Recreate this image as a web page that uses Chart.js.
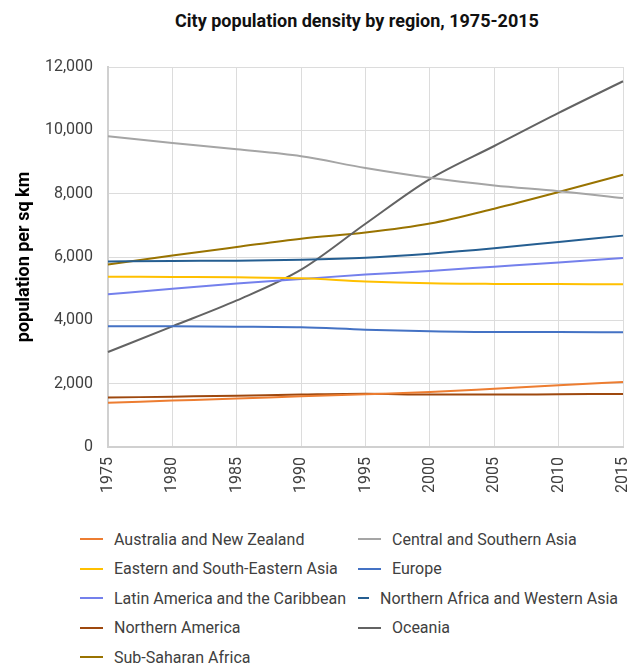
<!DOCTYPE html>
<html>
<head>
<meta charset="utf-8">
<script src="https://cdn.jsdelivr.net/npm/chart.js@4/dist/chart.umd.min.js"></script>
<style>
    body { margin: 0; background: #fff; font-family: Roboto, sans-serif; }
    #wrap { position: relative; width: 642px; height: 666px; overflow: hidden; }
    #title {
        position: absolute; top: 10px; left: 0; width: 714px;
        text-align: center; font-weight: bold; font-size: 18px; color: #111;
    }
    #chart { position: absolute; top: 0; left: 0; }
    #legend {
        position: absolute; top: 528px; left: 80px;
        display: grid; grid-template-columns: 278px 260px; row-gap: 7.5px;
        font-size: 16px; color: #404040;
    }
    .legend-item { display: flex; align-items: center; height: 22px; white-space: nowrap; }
    .legend-line { width: 23px; height: 2px; margin-right: 11px; }
</style>
</head>
<body>
<div id="wrap">
    <div id="title">City population density by region, 1975-2015</div>
    <canvas id="chart" width="642" height="505"></canvas>
    <div id="legend"></div>
</div>
<script>
const years = ['1975', '1980', '1985', '1990', '1995', '2000', '2005', '2010', '2015'];

const regions = [
    'Australia and New Zealand',
    'Central and Southern Asia',
    'Eastern and South-Eastern Asia',
    'Europe',
    'Latin America and the Caribbean',
    'Northern Africa and Western Asia',
    'Northern America',
    'Oceania',
    'Sub-Saharan Africa'
];

const australiaNz = [1400, 1465, 1530, 1600, 1665, 1735, 1840, 1950, 2055];
const centralSouthAsia = [9810, 9600, 9400, 9180, 8810, 8500, 8260, 8080, 7860];
const eastSouthEastAsia = [5380, 5370, 5360, 5330, 5230, 5170, 5150, 5145, 5140];
const europe = [3810, 3810, 3800, 3780, 3705, 3655, 3630, 3630, 3620];
const latinAmerica = [4820, 5000, 5160, 5305, 5445, 5560, 5695, 5830, 5970];
const northAfricaWestAsia = [5855, 5875, 5885, 5915, 5980, 6105, 6275, 6475, 6675];
const northernAmerica = [1560, 1590, 1620, 1655, 1680, 1655, 1655, 1665, 1675];
const oceania = [3000, 3810, 4630, 5600, 7050, 8460, 9505, 10550, 11550];
const subSaharanAfrica = [5760, 6045, 6315, 6580, 6770, 7055, 7525, 8050, 8600];

const seriesValues = [
    australiaNz, centralSouthAsia, eastSouthEastAsia, europe, latinAmerica,
    northAfricaWestAsia, northernAmerica, oceania, subSaharanAfrica
];

// Office-like palette
const colors = [
    '#ed7d31', '#a5a5a5', '#ffc000', '#4472c4', '#7480ec',
    '#255e91', '#9e480e', '#636363', '#997300'
];

const datasets = regions.map((name, i) => ({
    label: name,
    data: seriesValues[i],
    borderColor: colors[i],
    backgroundColor: colors[i],
    borderWidth: 2,
    pointRadius: 0,
    cubicInterpolationMode: 'monotone',
    fill: false
}));

const ctx = document.getElementById('chart').getContext('2d');
new Chart(ctx, {
    type: 'line',
    data: { labels: years, datasets: datasets },
    options: {
        responsive: false,
        animation: false,
        layout: { padding: { top: 67, right: 19, left: 0, bottom: 0 } },
        plugins: {
            legend: { display: false },
            tooltip: { enabled: false }
        },
        scales: {
            x: {
                grid: { color: '#dcdcdc', drawTicks: false },
                border: { color: '#d0d0d0', width: 2 },
                ticks: {
                    color: '#404040',
                    font: { family: 'Roboto', size: 16 },
                    minRotation: 90,
                    maxRotation: 90,
                    padding: 10,
                    autoSkip: false
                },
                afterFit: (scale) => {
                    scale.height = 58;
                    // don't let the rotated end labels push the plot inwards
                    scale.paddingLeft = 0;
                    scale.paddingRight = 0;
                }
            },
            y: {
                min: 0,
                max: 12000,
                grid: { color: '#dcdcdc', drawTicks: false },
                border: { color: '#d0d0d0', width: 2 },
                ticks: {
                    stepSize: 2000,
                    color: '#404040',
                    font: { family: 'Roboto', size: 16 },
                    padding: 15,
                    callback: (v) => v.toLocaleString('en-US')
                },
                title: {
                    display: true,
                    text: 'population per sq km',
                    color: '#000',
                    font: { family: 'Roboto', size: 18, weight: 'bold' },
                    padding: { top: 14 }
                },
                afterFit: (scale) => { scale.width = 108; }
            }
        }
    }
});

// HTML legend in two columns, row-major like the original
const legendEl = document.getElementById('legend');
regions.forEach((name, i) => {
    const item = document.createElement('div');
    item.className = 'legend-item';
    item.innerHTML = `<span class="legend-line" style="background:${colors[i]}"></span><span>${name}</span>`;
    legendEl.appendChild(item);
});
</script>
</body>
</html>
